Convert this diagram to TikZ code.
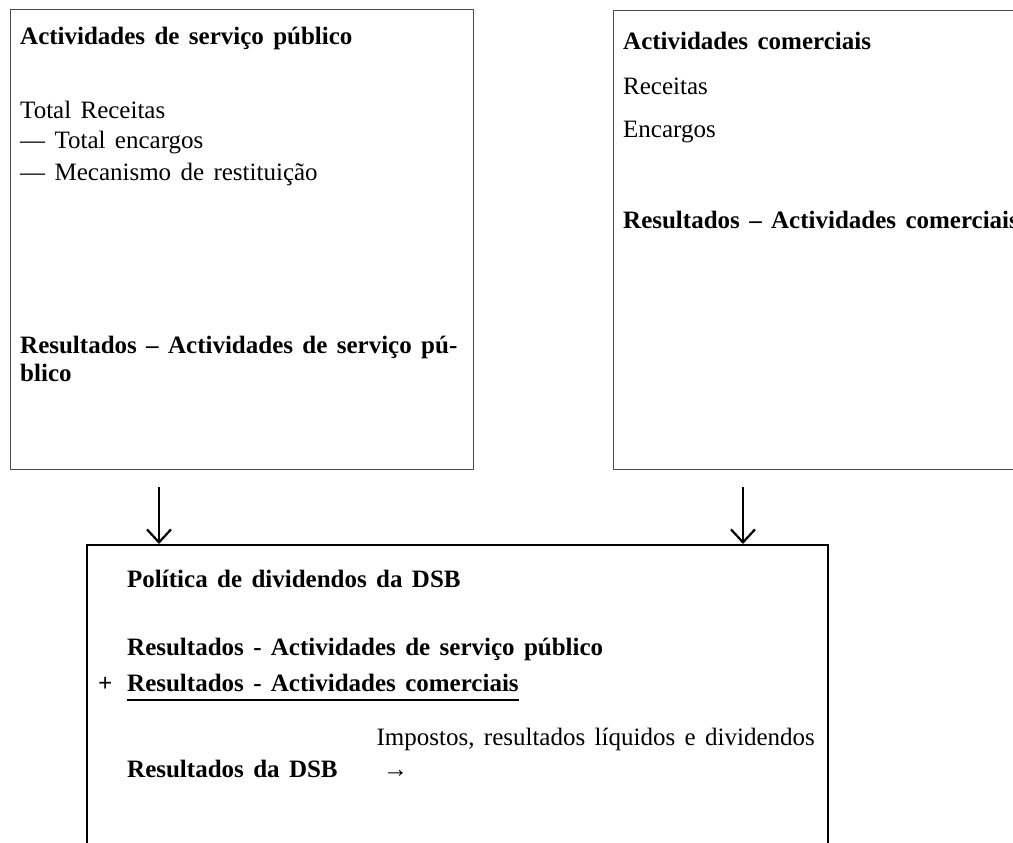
\documentclass[tikz,border=0pt]{standalone}
\usepackage{fontspec}
\setmainfont[WordSpace=1.5]{Liberation Serif}
\usetikzlibrary{arrows.meta}
\tikzset{
  panel/.style={draw=black!70, line width=1.2pt, anchor=north west, inner sep=0pt},
  summary/.style={draw=black, line width=2pt, anchor=north west, inner sep=0pt},
  txt/.style={anchor=base west, inner sep=0pt, font=\fontsize{25}{28}\selectfont},
  hd/.style={txt, font=\fontsize{25}{28}\selectfont\bfseries},
  flow/.style={line width=2.2pt, -{Straight Barb[length=13pt,width=24pt,line width=2.2pt]}}
}
\begin{document}
\begin{tikzpicture}[x=1pt,y=-1pt]
	\useasboundingbox (0,0) rectangle (1013,843);
	% the three boxes
	\node[panel, minimum width=463pt, minimum height=460pt] (pub) at (10,9) {};
	\node[panel, minimum width=440pt, minimum height=459pt] (com) at (613,10) {};
	\node[summary, minimum width=741pt, minimum height=330pt] (dsb) at (86,544) {};
	% public service box
	\node[hd] (pubtitle) at (20,45) {Actividades de serviço público};
	\node[txt] (pubrec) at (20,118) {Total Receitas};
	\node[txt] (pubenc) at (20,149) {— Total encargos};
	\node[txt] (pubmec) at (20,180) {— Mecanismo de restituição};
	\node[hd] (pubres) at (20,353) {Resultados – Actividades de serviço pú-};
	\node[hd] (pubresb) at (20,381) {blico};
	% commercial box
	\node[hd] (comtitle) at (623,50) {Actividades comerciais};
	\node[txt] (comrec) at (623,95) {Receitas};
	\node[txt] (comenc) at (623,138) {Encargos};
	\node[hd] (comres) at (623,228) {Resultados – Actividades comerciais};
	% dividend box
	\node[hd] (dsbtitle) at (127,587) {Política de dividendos da DSB};
	\node[hd] (dsbpub) at (127,655) {Resultados - Actividades de serviço público};
	\node[hd] (dsbcom) at (127,691) {Resultados - Actividades comerciais};
	\node[hd] (plus) at (98,691) {+};
	\draw[line width=1.2pt] ([yshift=-9pt]dsbcom.base west) -- ([yshift=-9pt]dsbcom.base east);
	\node[txt, anchor=base east] (tax) at (815,745) {Impostos, resultados líquidos e dividendos};
	\node[hd] (dsbres) at (127,777) {Resultados da DSB};
	\node[txt] (dsbarr) at (383,777) {→};
	% arrows into the dividend box
	\coordinate (pubout) at (159,487);
	\coordinate (comout) at (743,487);
	\draw[flow] (pubout) -- (pubout |- dsb.north);
	\draw[flow] (comout) -- (comout |- dsb.north);
\end{tikzpicture}
\end{document}
